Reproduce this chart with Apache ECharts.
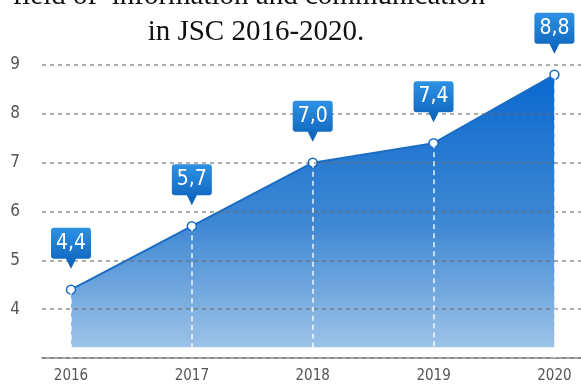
<!DOCTYPE html>
<html><head><meta charset="utf-8">
<script src="https://cdn.jsdelivr.net/npm/echarts@6/dist/echarts.min.js"></script>
<style>html,body{margin:0;padding:0;background:#fff}#c{width:581px;height:388px}</style>
</head><body><div id="c"></div>
<script>
var years = [2016, 2017, 2018, 2019, 2020];
var values = [4.4, 5.7, 7.0, 7.4, 8.8];
var yTicks = [4, 5, 6, 7, 8, 9];
var titleLine1 = 'field of  information and communication';
var titleLine2 = 'in JSC 2016-2020.';

var pts = years.map(function (y, i) { return [y, values[i]]; });
var calloutPath = 'path://M3,0 L37,0 Q40,0 40,3 L40,28 Q40,31 37,31 L25,31 L20,41 L15,31 L3,31 Q0,31 0,28 L0,3 Q0,0 3,0 Z';
var serif = '29px "Liberation Serif", "Times New Roman", serif';
var narrow = '"Liberation Sans Narrow", "DejaVu Sans Condensed", sans-serif';

var chart = echarts.init(document.getElementById('c'));
chart.setOption({
  animation: false,
  grid: { left: 42, right: 0, top: 65, bottom: 30 },
  graphic: [
    { type: 'text', z: 10, style: { text: titleLine1, x: 249, y: 11, align: 'center', verticalAlign: 'bottom', font: serif, fill: '#111' } },
    { type: 'text', z: 10, style: { text: titleLine2, x: 256, y: 47, align: 'center', verticalAlign: 'bottom', font: serif, fill: '#111' } }
  ],
  xAxis: {
    type: 'value', min: 2015.76, max: 2020.22,
    axisLine: { show: true, lineStyle: { color: '#8a8a8a', width: 1.5 } },
    axisTick: { show: false },
    splitLine: { show: false },
    axisLabel: { customValues: years, formatter: function (v) { return String(Math.round(v)); }, color: '#555', fontSize: 15, margin: 11, fontFamily: narrow }
  },
  yAxis: {
    type: 'value', min: 3, max: 9, interval: 1, z: 3,
    axisLine: { show: false }, axisTick: { show: false },
    axisLabel: { formatter: function (v) { return yTicks.indexOf(v) >= 0 ? String(v) : ''; }, color: '#555', fontSize: 17, margin: 22, fontFamily: narrow },
    splitLine: { show: true, lineStyle: { type: [4, 4], color: 'rgba(110,110,110,0.75)', width: 1.5 } }
  },
  series: [
    {
      type: 'line', data: pts, z: 2,
      symbol: 'circle', symbolSize: 9,
      itemStyle: { color: '#fff', borderColor: '#1a6cc4', borderWidth: 1.5 },
      lineStyle: { color: '#1a6cc4', width: 2 },
      areaStyle: {
        origin: 3.22,
        color: new echarts.graphic.LinearGradient(0, 0, 0, 1, [
          { offset: 0, color: '#0a69cf' },
          { offset: 0.55, color: '#3f88d3' },
          { offset: 1, color: '#9dc3e8' }
        ]),
        opacity: 1
      },
      markLine: {
        silent: true, symbol: 'none', label: { show: false },
        lineStyle: { color: 'rgba(255,255,255,0.9)', type: [5, 4], width: 1.5 },
        data: pts.map(function (p) { return [{ coord: [p[0], p[1]] }, { coord: [p[0], 3] }]; })
      }
    },
    {
      type: 'scatter', data: pts, z: 5,
      symbol: calloutPath, symbolSize: [40, 41], symbolOffset: [0, -41.5],
      itemStyle: {
        opacity: 1,
        color: new echarts.graphic.LinearGradient(0, 0, 0, 1, [
          { offset: 0, color: '#2e92e4' },
          { offset: 1, color: '#0a5fb8' }
        ])
      },
      label: {
        show: true, position: 'inside', offset: [0, -5],
        color: '#fff', fontSize: 21, fontFamily: narrow,
        formatter: function (p) { return p.value[1].toFixed(1).replace('.', ','); }
      }
    }
  ]
});
</script></body></html>
